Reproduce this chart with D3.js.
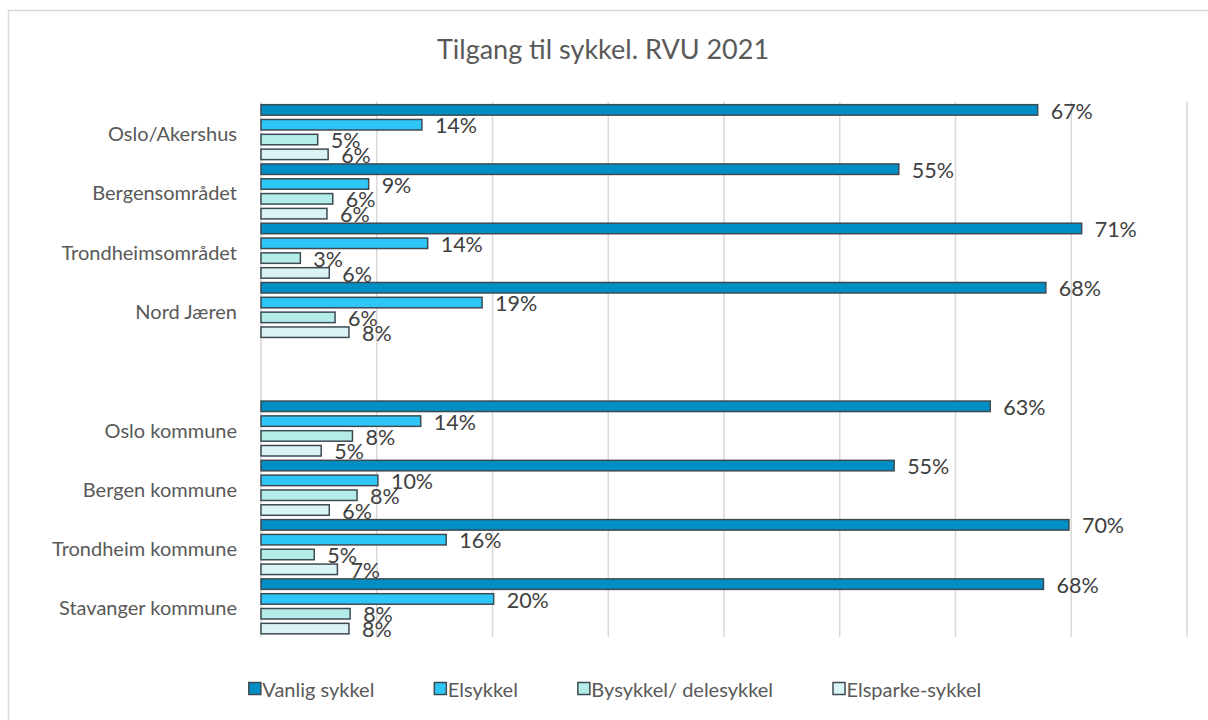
<!DOCTYPE html>
<html>
<head>
<meta charset="utf-8">
<script src="https://cdn.jsdelivr.net/npm/d3@7"></script>
<style>
  html, body { margin: 0; padding: 0; background: #ffffff; }
  svg { display: block; font-family: Lato, "Open Sans", sans-serif; }
</style>
</head>
<body>
<svg id="chart" width="1208" height="720"></svg>
<script>
// ---- Data ----
const title = "Tilgang til sykkel. RVU 2021";
const categories = [
  "Oslo/Akershus", "Bergensområdet", "Trondheimsområdet", "Nord Jæren",
  " ",
  "Oslo kommune", "Bergen kommune", "Trondheim kommune", "Stavanger kommune"
];
const seriesNames = ["Vanlig sykkel", "Elsykkel", "Bysykkel/ delesykkel", "Elsparke-sykkel"];
const vanligSykkel = [67.1, 55.1, 70.9, 67.8, null, 63.0, 54.7, 69.8, 67.6];
const elsykkel     = [13.9,  9.3, 14.4, 19.1, null, 13.8, 10.1, 16.0, 20.1];
const bysykkel     = [ 4.9,  6.2,  3.4,  6.4, null,  7.9,  8.3,  4.6,  7.7];
const elsparke     = [ 5.8,  5.7,  5.9,  7.6, null,  5.2,  5.9,  6.6,  7.6];
const xTicks = [0, 10, 20, 30, 40, 50, 60, 70, 80];
const seriesColors = ["#008FC4", "#2DC6F7", "#B4ECEA", "#DAF4F6"];

const seriesValues = [vanligSykkel, elsykkel, bysykkel, elsparke];

// ---- Layout ----
const svg = d3.select("#chart");
const plot = { left: 261, right: 1187, top: 102.5, bottom: 636 };
const textColor = "#595959";
const labelColor = "#404040";
const barStroke = "#3E4A52";

// chart area border
svg.append("rect")
  .attr("x", 8.5).attr("y", 10.5)
  .attr("width", 1220).attr("height", 730)
  .attr("fill", "#ffffff")
  .attr("stroke", "#d9d9d9").attr("stroke-width", 1.5);

// title
svg.append("text")
  .attr("x", 603).attr("y", 59)
  .attr("text-anchor", "middle")
  .attr("fill", textColor)
  .attr("font-size", 27)
  .text(title);

// scales
const x = d3.scaleLinear().domain([0, 80]).range([plot.left, plot.right]);
const y = d3.scaleBand().domain(categories).range([plot.top, plot.bottom]).paddingInner(0).paddingOuter(0);
const ySub = d3.scaleBand().domain(seriesNames).range([0, y.bandwidth()]).padding(0);
const barH = 10.5;

// gridlines
const grid = svg.append("g").attr("class", "grid");
grid.selectAll("line")
  .data(xTicks)
  .join("line")
  .attr("x1", d => x(d)).attr("x2", d => x(d))
  .attr("y1", plot.top - 1).attr("y2", plot.bottom + 1)
  .attr("stroke", "#d9d9d9").attr("stroke-width", 1.5);

// category axis labels
const yAxis = d3.axisLeft(y).tickSize(0).tickPadding(24);
const gy = svg.append("g")
  .attr("transform", `translate(${plot.left},0)`)
  .call(yAxis);
gy.select(".domain").remove();
gy.selectAll("text")
  .attr("fill", textColor)
  .attr("font-size", 20)
  .attr("font-family", "Lato, \"Open Sans\", sans-serif")
  .attr("dy", "0.45em");

// bars
const rows = [];
categories.forEach((c, i) => {
  seriesNames.forEach((s, j) => {
    const v = seriesValues[j][i];
    if (v !== null && v !== undefined) rows.push({ cat: c, series: s, idx: j, value: v });
  });
});

const barsG = svg.append("g");
barsG.selectAll("rect")
  .data(rows)
  .join("rect")
  .attr("x", x(0))
  .attr("y", d => y(d.cat) + ySub(d.series) + (ySub.bandwidth() - barH) / 2)
  .attr("width", d => x(d.value) - x(0))
  .attr("height", barH)
  .attr("fill", d => seriesColors[d.idx])
  .attr("stroke", barStroke)
  .attr("stroke-width", 1.5);

// data labels
barsG.selectAll("text")
  .data(rows)
  .join("text")
  .attr("x", d => x(d.value) + 13)
  .attr("y", d => y(d.cat) + ySub(d.series) + ySub.bandwidth() / 2)
  .attr("dy", "0.4em")
  .attr("fill", labelColor)
  .attr("font-size", 21.5)
  .text(d => Math.round(d.value) + "%");

// legend
const legend = svg.append("g").attr("transform", "translate(0,689)");
const items = legend.selectAll("g")
  .data(seriesNames)
  .join("g");
items.append("rect")
  .attr("x", 0).attr("y", -6.5)
  .attr("width", 12).attr("height", 12)
  .attr("fill", (d, i) => seriesColors[i])
  .attr("stroke", barStroke).attr("stroke-width", 1.5);
items.append("text")
  .attr("x", 13.5).attr("y", 0)
  .attr("dy", "0.4em")
  .attr("fill", textColor)
  .attr("font-size", 20)
  .text(d => d);
// position items based on measured widths, centered
const gap = 60;
const widths = [];
items.each(function () {
  widths.push(13.5 + d3.select(this).select("text").node().getComputedTextLength());
});
const total = d3.sum(widths) + gap * (widths.length - 1);
let cx = 615 - total / 2;
items.each(function (d, i) {
  d3.select(this).attr("transform", `translate(${cx},0)`);
  cx += widths[i] + gap;
});
</script>
</body>
</html>
